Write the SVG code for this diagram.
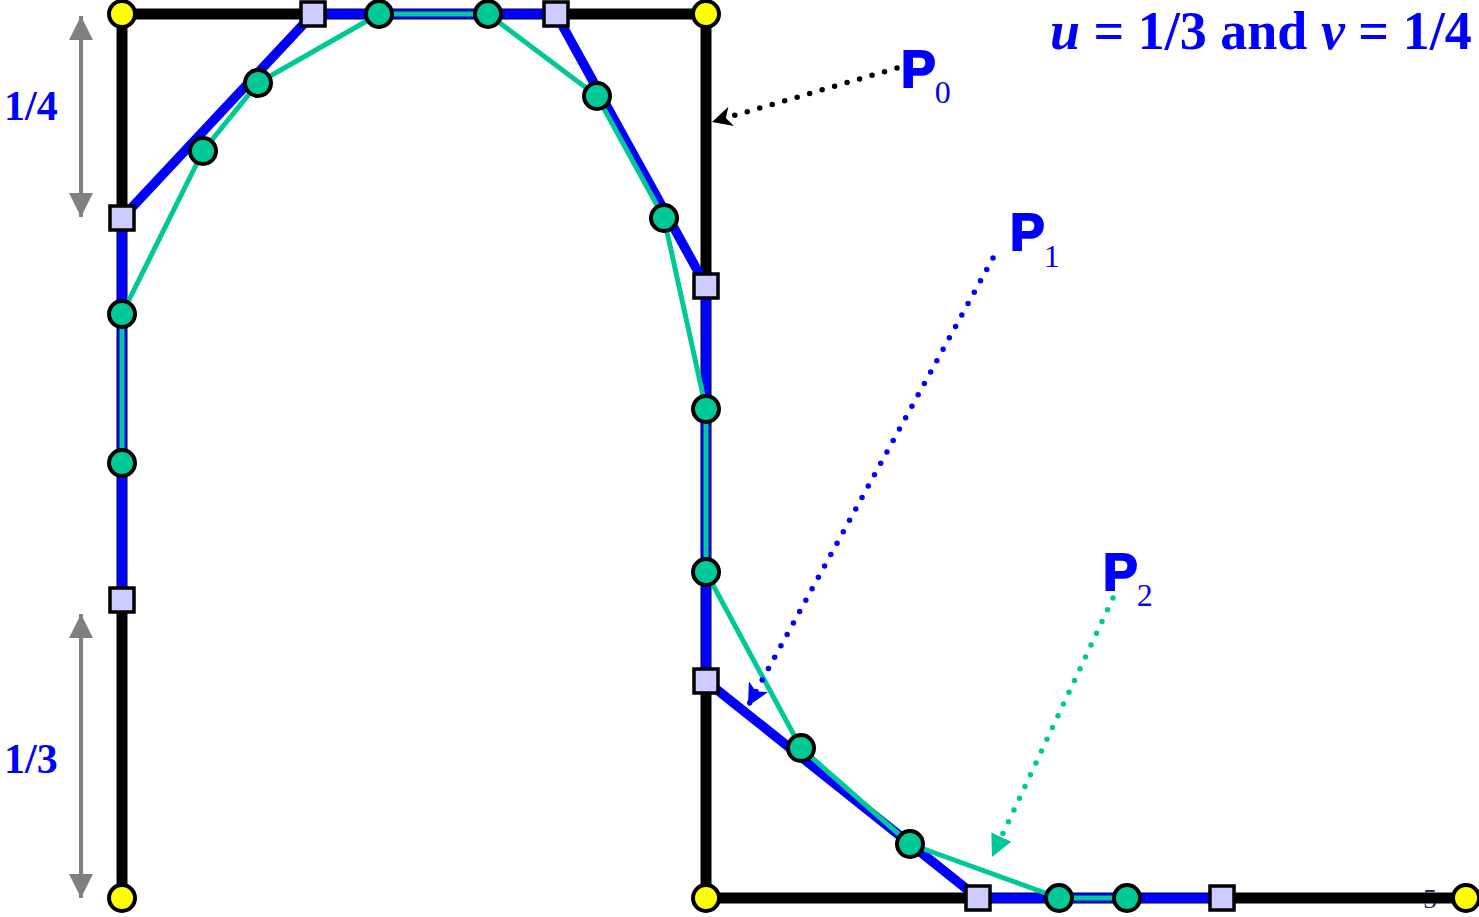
<svg xmlns="http://www.w3.org/2000/svg" width="1479" height="917" viewBox="0 0 1479 917">
<style>
.p0{fill:none;stroke:#000;stroke-width:11;stroke-linejoin:miter}
.p1{fill:none;stroke:#0000ff;stroke-width:9.5;stroke-linejoin:round}
.p2{fill:none;stroke:#00c896;stroke-width:5;stroke-linejoin:round}
.yc{fill:#ffff00;stroke:#000;stroke-width:4}
.gc{fill:#00c896;stroke:#000;stroke-width:4}
.sq{fill:#ccccff;stroke:#000;stroke-width:3.5}
.dim{stroke:#808080;stroke-width:4;fill:none}
.lbl{font-family:"Liberation Serif","Times New Roman",serif;font-weight:bold;fill:#0000ff}
.pl{font-family:"Liberation Sans",Arial,sans-serif;font-weight:900;fill:#0000ff;stroke:#0000ff;stroke-width:2;font-size:52px}
.sub{font-family:"Liberation Serif","Times New Roman",serif;font-weight:normal;stroke:none;font-size:32px}
.dot{fill:none;stroke-width:5.5;stroke-linecap:round;stroke-dasharray:0 13}
</style>
<defs>
<marker id="ga" markerUnits="userSpaceOnUse" markerWidth="24" markerHeight="24" refX="20" refY="10" orient="auto-start-reverse" viewBox="0 0 20 20">
<path d="M0,0 L20,10 L0,20 Z" fill="#808080"/>
</marker>
<marker id="ak" markerUnits="userSpaceOnUse" markerWidth="20" markerHeight="20" refX="18" refY="9" orient="auto" viewBox="0 0 18 18">
<path d="M0,0 L18,9 L0,18 L5,9 Z" fill="#000"/>
</marker>
<marker id="ab" markerUnits="userSpaceOnUse" markerWidth="22" markerHeight="22" refX="20" refY="10" orient="auto" viewBox="0 0 20 20">
<path d="M0,0 L20,10 L0,20 L5,10 Z" fill="#0000ff"/>
</marker>
<marker id="ag" markerUnits="userSpaceOnUse" markerWidth="22" markerHeight="22" refX="20" refY="10" orient="auto" viewBox="0 0 20 20">
<path d="M0,0 L20,10 L0,20 Z" fill="#00c896"/>
</marker>
</defs>

<text id="pagenum" x="1423" y="908" font-family="Liberation Serif, serif" font-size="28" fill="#1a2f5a">5</text>

<g id="connectors">
<path id="poly0" class="p0" d="M122,898 L122,14 L706,14 L706,898 L1466,898"/>
<path id="poly1" class="p1" d="M122,600 L122,218 L313,14 L556,14 L706,286 L706,681 L978,898 L1222,898"/>
<path id="poly2" class="p2" d="M122,463 L122,314 L203,151 L258,83 L379,14 L488,14 L597,96 L664,218 L706,409 L706,572 L801,748 L910,844 L1059,898 L1127,898"/>
<line class="dim" x1="81" y1="16" x2="81" y2="217" marker-start="url(#ga)" marker-end="url(#ga)"/>
<line class="dim" x1="81" y1="614" x2="81" y2="898" marker-start="url(#ga)" marker-end="url(#ga)"/>
<line class="dot" stroke="#000" x1="897" y1="68" x2="712" y2="122" marker-end="url(#ak)"/>
<line class="dot" stroke="#0000ff" x1="993" y1="258" x2="748" y2="706" marker-end="url(#ab)"/>
<line class="dot" stroke="#00c896" x1="1113" y1="598" x2="992" y2="857" marker-end="url(#ag)"/>
</g>

<g id="p0-points">
<circle class="yc" cx="122" cy="14" r="13"/>
<circle class="yc" cx="706" cy="14" r="13"/>
<circle class="yc" cx="122" cy="898" r="13"/>
<circle class="yc" cx="706" cy="898" r="13"/>
<circle class="yc" cx="1466" cy="898" r="13"/>
</g>

<g id="p1-points">
<rect class="sq" x="110" y="206" width="24" height="24"/>
<rect class="sq" x="110" y="588" width="24" height="24"/>
<rect class="sq" x="301" y="2" width="24" height="24"/>
<rect class="sq" x="544" y="2" width="24" height="24"/>
<rect class="sq" x="694" y="274" width="24" height="24"/>
<rect class="sq" x="694" y="669" width="24" height="24"/>
<rect class="sq" x="966" y="886" width="24" height="24"/>
<rect class="sq" x="1210" y="886" width="24" height="24"/>
</g>

<g id="p2-points">
<circle class="gc" cx="122" cy="463" r="13"/>
<circle class="gc" cx="122" cy="314" r="13"/>
<circle class="gc" cx="203" cy="151" r="13"/>
<circle class="gc" cx="258" cy="83" r="13"/>
<circle class="gc" cx="379" cy="14" r="13"/>
<circle class="gc" cx="488" cy="14" r="13"/>
<circle class="gc" cx="597" cy="96" r="13"/>
<circle class="gc" cx="664" cy="218" r="13"/>
<circle class="gc" cx="706" cy="409" r="13"/>
<circle class="gc" cx="706" cy="572" r="13"/>
<circle class="gc" cx="801" cy="748" r="13"/>
<circle class="gc" cx="910" cy="844" r="13"/>
<circle class="gc" cx="1059" cy="898" r="13"/>
<circle class="gc" cx="1127" cy="898" r="13"/>
</g>

<g id="labels">
<text class="lbl" x="1050" y="49" font-size="54"><tspan font-style="italic">u</tspan> = 1/3 and <tspan font-style="italic">v</tspan> = 1/4</text>
<text class="lbl" x="4" y="120" font-size="42">1/4</text>
<text class="lbl" x="4" y="773" font-size="42">1/3</text>
<text id="label-P0" class="pl" x="901" y="87">P<tspan class="sub" dx="-1" dy="16">0</tspan></text>
<text id="label-P1" class="pl" x="1010" y="250">P<tspan class="sub" dx="-1" dy="17">1</tspan></text>
<text id="label-P2" class="pl" x="1103" y="590">P<tspan class="sub" dx="-1" dy="16">2</tspan></text>
</g>
</svg>
